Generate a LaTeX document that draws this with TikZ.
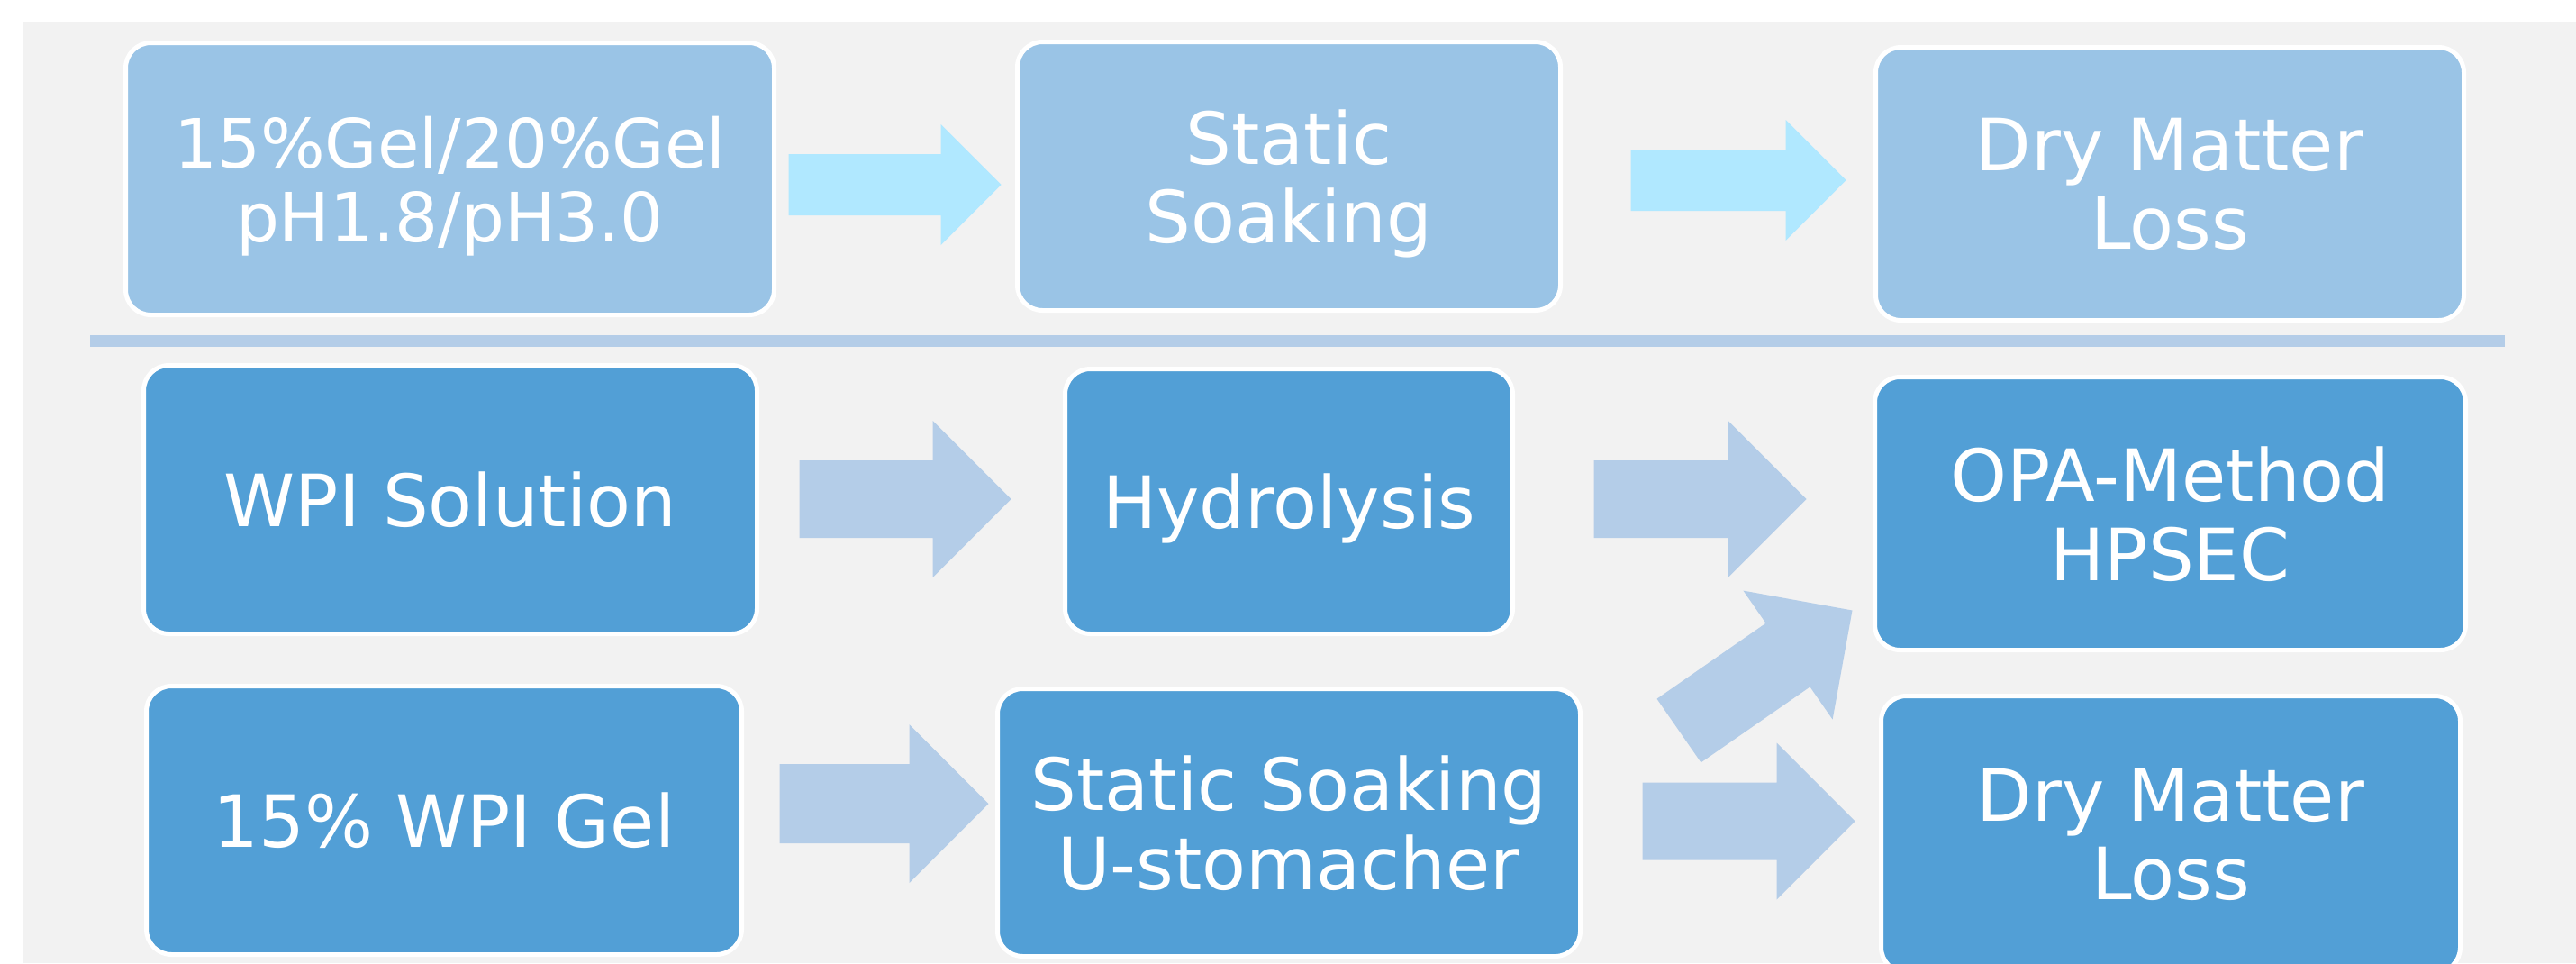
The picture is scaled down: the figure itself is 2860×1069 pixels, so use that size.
\documentclass[tikz,border=0pt]{standalone}
\usepackage{fontspec}
\setmainfont{DejaVu Sans}
\usetikzlibrary{calc}
\definecolor{sheet}{HTML}{F2F2F2}
\definecolor{paleblue}{HTML}{9AC4E6}
\definecolor{deepblue}{HTML}{529FD6}
\definecolor{skyflow}{HTML}{B0E8FF}
\definecolor{steelflow}{HTML}{B4CDE8}
% fat flow arrow from tail point #2 to tip point #3,
% half shaft width #4, half head width #5 (right-angled tip)
\newcommand{\blockarrow}[5]{%
  \fill[#1] let \p1=#2, \p2=#3,
      \n1={atan2(\y2-\y1,\x2-\x1)}, \n2={veclen(\x2-\x1,\y2-\y1)} in
    [shift={(\p1)}, rotate=\n1]
    (0,#4) -- (\n2-#5,#4) -- (\n2-#5,#5) -- (\n2,0) -- (\n2-#5,-#5)
    -- (\n2-#5,-#4) -- (0,-#4) -- cycle;
}
\tikzset{
  stage/.style={rectangle, rounded corners=28pt, draw=white, line width=5pt,
    text=white, align=center, inner sep=0pt, text depth=0pt,
    font=\fontsize{80}{87.5}\selectfont},
  pale/.style={stage, fill=paleblue},
  deep/.style={stage, fill=deepblue},
  skyarrow/.style={fill=skyflow},
  steelarrow/.style={fill=steelflow}
}

\begin{document}
\begin{tikzpicture}[x=1pt,y=-1pt]
  \useasboundingbox (0,0) rectangle (2860,1069);
  \clip (0,0) rectangle (2860,1069);
  \fill[white] (0,0) rectangle (2860,1069);
  \fill[sheet] (25,24) rectangle (2860,1069);

  % soaking test
  \node[pale, minimum width=720pt, minimum height=302pt,
    font=\fontsize{75.5}{82}\selectfont] (gel) at (499.5,198.5)
    {15\%Gel/20\%Gel\\pH1.8/pH3.0};
  \node[pale, minimum width=603pt, minimum height=298pt] (soak) at (1431,195.5)
    {Static\\Soaking};
  \node[pale, minimum width=653pt, minimum height=303pt] (dml) at (2409,204)
    {Dry Matter\\Loss};
  \blockarrow{skyarrow}{($(gel.east)+(13.5,6.5)$)}{($(soak.west)+(-15.5,9.5)$)}{34}{67}
  \blockarrow{skyarrow}{($(soak.east)+(75.5,4.5)$)}{($(dml.west)+(-30.5,-4)$)}{34}{67}

  \fill[steelflow] (100,372) rectangle (2781,385);

  % digestion
  \node[deep, minimum width=681pt, minimum height=298pt] (wpisol) at (500,554.5)
    {WPI Solution};
  \node[deep, minimum width=497pt, minimum height=294pt] (hydro) at (1431,556.5)
    {Hydrolysis};
  \node[deep, minimum width=656pt, minimum height=303pt] (opa) at (2409.5,570)
    {OPA-Method\\HPSEC};
  \node[deep, minimum width=661pt, minimum height=298pt] (wpigel) at (493,910.5)
    {15\% WPI Gel};
  \node[deep, minimum width=647pt, minimum height=297pt] (soakst) at (1431,913)
    {Static Soaking\\U-stomacher};
  \node[deep, minimum width=643pt, minimum height=307pt] (dmlb) at (2410,926)
    {Dry Matter\\Loss};
  \blockarrow{steelarrow}{($(wpisol.east)+(44.5,-0.5)$)}{($(hydro.west)+(-57.5,-2.5)$)}{43}{87}
  \blockarrow{steelarrow}{($(hydro.east)+(87.5,-2.5)$)}{($(opa.west)+(-73.5,-16)$)}{43}{87}
  \blockarrow{steelarrow}{($(wpigel.east)+(39.5,-18.5)$)}{($(soakst.west)+(-7.5,-21)$)}{44}{88}
  \blockarrow{steelarrow}{($(soakst.east)+(66.5,-1.5)$)}{($(dmlb.west)+(-26.5,-14.5)$)}{43}{87}
  \blockarrow{steelarrow}{($(soakst.north east)+(107,49)$)}{($(opa.south west)+(-22.5,-46.5)$)}{43}{87}
\end{tikzpicture}
\end{document}
